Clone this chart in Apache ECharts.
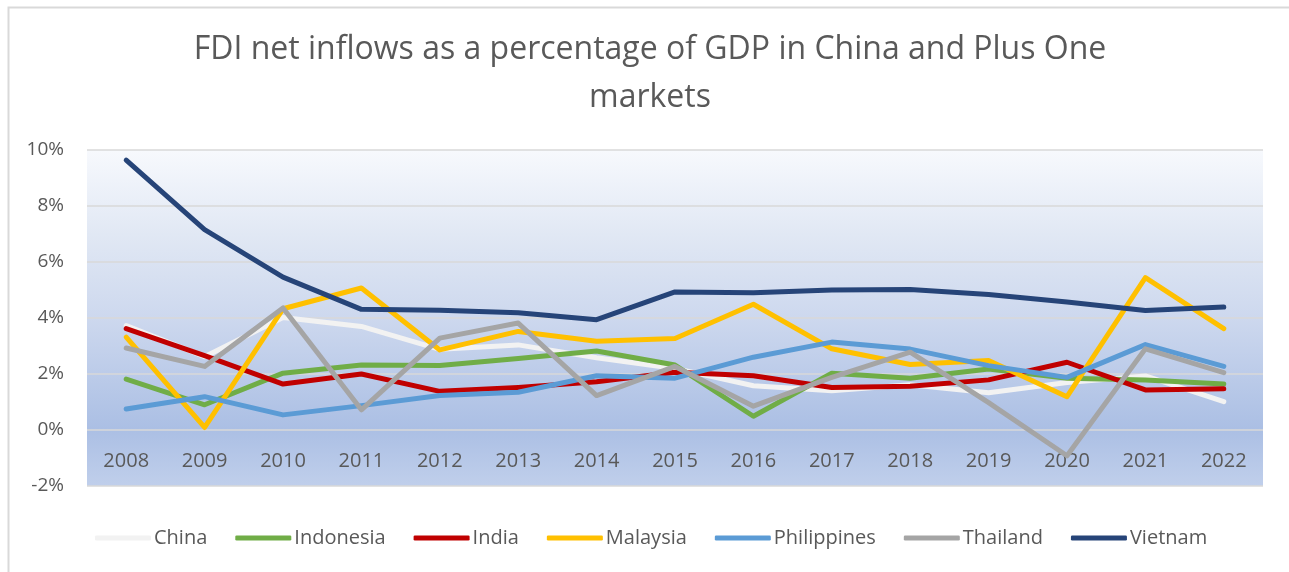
<!DOCTYPE html>
<html>
<head>
<meta charset="utf-8">
<title>FDI net inflows as a percentage of GDP</title>
<script src="https://cdn.jsdelivr.net/npm/echarts@6/dist/echarts.min.js"></script>
<style>
  html, body { margin: 0; padding: 0; background: #ffffff; }
  #chart { width: 1289px; height: 572px; }
</style>
</head>
<body>
<div id="chart"></div>
<script>
// Years on the category axis
const years = ['2008', '2009', '2010', '2011', '2012', '2013', '2014', '2015',
               '2016', '2017', '2018', '2019', '2020', '2021', '2022'];

// FDI net inflows, % of GDP
const china       = [3.73, 2.62, 4.02, 3.70, 2.88, 3.04, 2.58, 2.20, 1.58, 1.40, 1.62, 1.33, 1.70, 1.93, 1.01];
const indonesia   = [1.82, 0.90, 2.03, 2.32, 2.30, 2.55, 2.82, 2.32, 0.49, 2.03, 1.85, 2.18, 1.85, 1.79, 1.64];
const india       = [3.62, 2.66, 1.64, 2.00, 1.38, 1.52, 1.72, 2.06, 1.94, 1.52, 1.56, 1.79, 2.42, 1.43, 1.47];
const malaysia    = [3.32, 0.09, 4.33, 5.07, 2.86, 3.52, 3.17, 3.27, 4.49, 2.90, 2.34, 2.48, 1.19, 5.44, 3.62];
const philippines = [0.75, 1.19, 0.54, 0.87, 1.23, 1.35, 1.94, 1.85, 2.60, 3.14, 2.89, 2.30, 1.88, 3.05, 2.27];
const thailand    = [2.93, 2.27, 4.36, 0.72, 3.28, 3.82, 1.23, 2.27, 0.85, 1.88, 2.78, 0.98, -0.92, 2.90, 2.05];
const vietnam     = [9.64, 7.16, 5.46, 4.31, 4.28, 4.19, 3.94, 4.93, 4.90, 5.00, 5.02, 4.84, 4.57, 4.27, 4.39];

// Value axis ticks
const yMin = -2, yMax = 10, yStep = 2;

const seriesDefs = [
  { name: 'China',       data: china,       color: '#f2f2f2' },
  { name: 'Indonesia',   data: indonesia,   color: '#70ad47' },
  { name: 'India',       data: india,       color: '#c00000' },
  { name: 'Malaysia',    data: malaysia,    color: '#ffc000' },
  { name: 'Philippines', data: philippines, color: '#5b9bd5' },
  { name: 'Thailand',    data: thailand,    color: '#a5a5a5' },
  { name: 'Vietnam',     data: vietnam,     color: '#264478' }
];

const FONT = '"Open Sans", "Noto Sans", sans-serif';
const TEXT_COLOR = '#595959';

// Plot box
const GRID_TOP = 150, GRID_BOTTOM = 86;
const PLOT_H = 572 - GRID_TOP - GRID_BOTTOM;
// Category labels sit just under the 0% line
const zeroLift = PLOT_H * (0 - yMin) / (yMax - yMin);

const chart = echarts.init(document.getElementById('chart'), null, { renderer: 'canvas' });

chart.setOption({
  backgroundColor: '#ffffff',
  animation: false,
  graphic: [{
    type: 'rect',
    left: 6,
    top: 5,
    shape: { width: 1300, height: 600 },
    style: { fill: 'none', stroke: '#d9d9d9', lineWidth: 2 },
    silent: true,
    z: -1
  }, {
    type: 'text',
    x: 650,
    y: 26,
    silent: true,
    style: {
      text: 'FDI net inflows as a percentage of GDP in China and Plus One\nmarkets',
      fontFamily: FONT,
      fontSize: 32,
      lineHeight: 48,
      fill: TEXT_COLOR,
      align: 'center',
      verticalAlign: 'top'
    }
  }],
  grid: {
    left: 87,
    right: 26,
    top: GRID_TOP,
    bottom: GRID_BOTTOM,
    show: true,
    borderWidth: 0,
    backgroundColor: new echarts.graphic.LinearGradient(0, 0, 0, 1, [
      { offset: 0, color: '#f7f9fd' },
      { offset: 0.25, color: '#e1e8f4' },
      { offset: 0.5, color: '#cdd8ee' },
      { offset: 0.83, color: '#abbfe4' },
      { offset: 1, color: '#c0cfeb' }
    ])
  },
  legend: {
    left: 90,
    top: 523,
    icon: 'roundRect',
    itemWidth: 56,
    itemHeight: 5,
    itemGap: 28,
    textStyle: { fontFamily: FONT, fontSize: 20, color: TEXT_COLOR, padding: [0, 0, 0, -2] },
    data: seriesDefs.map(s => s.name)
  },
  xAxis: {
    type: 'category',
    data: years,
    boundaryGap: true,
    offset: -zeroLift,
    axisLine: { show: false, onZero: false },
    axisTick: { show: false },
    axisLabel: { fontFamily: FONT, fontSize: 20, color: TEXT_COLOR, margin: 21 },
    splitLine: { show: false }
  },
  yAxis: {
    type: 'value',
    min: yMin,
    max: yMax,
    interval: yStep,
    axisLine: { show: false },
    axisTick: { show: false },
    axisLabel: { fontFamily: FONT, fontSize: 19, color: TEXT_COLOR, margin: 23, formatter: '{value}%' },
    splitLine: { show: true, lineStyle: { color: '#d9d9d9', width: 1.5 } }
  },
  series: seriesDefs.map((s, i) => ({
    name: s.name,
    type: 'line',
    data: s.data,
    symbol: 'none',
    color: s.color,
    z: 2 + i,
    lineStyle: { width: 5, color: s.color, cap: 'round', join: 'round' }
  }))
});
</script>
</body>
</html>
